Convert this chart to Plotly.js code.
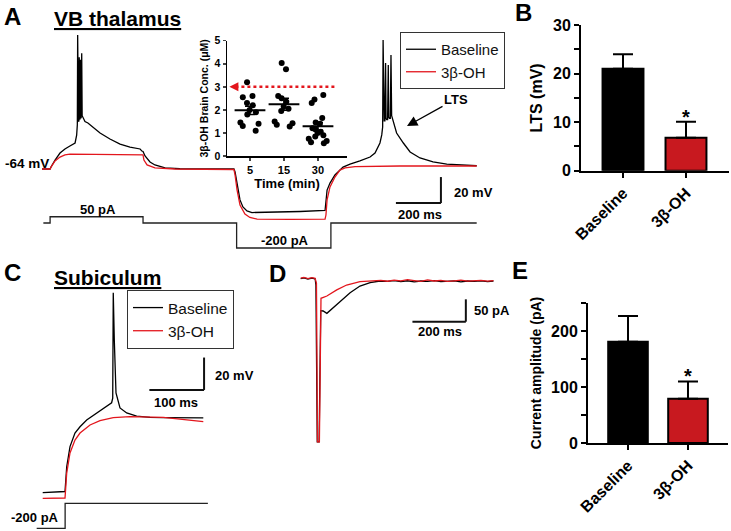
<!DOCTYPE html>
<html>
<head>
<meta charset="utf-8">
<script src="https://cdn.plot.ly/plotly-3.0.1.min.js"></script>
<style>html,body{margin:0;padding:0;background:#fff}#fig{width:731px;height:531px}</style>
</head>
<body>
<div id="fig"></div>
<script>
// ---- data ----
// A: VB thalamus current clamp (time ms, voltage mV)
const tA_base = [0, 36, 40, 58, 80, 102, 124, 147, 154, 157,
  158.5, 160, 162, 164, 165.5, 167, 169, 170.5, 172, 174,
  176.5, 178.5, 181, 186, 191, 204, 213, 236, 258, 302,
  347, 391, 436, 444, 449, 458, 480, 502, 547, 613,
  853, 858, 867, 880, 893, 911, 933, 1013, 1147, 1258,
  1262, 1267, 1280, 1302, 1338, 1369, 1413, 1458, 1480, 1493,
  1502, 1510, 1514, 1516, 1518, 1521, 1524, 1527, 1529, 1532,
  1536, 1539, 1541, 1544, 1548, 1551, 1554, 1557, 1561, 1576,
  1606, 1636, 1680, 1738, 1799, 1858, 1932];
const vA_base = [-64, -64, -62.5, -57.1, -51.7, -48.6, -46.3, -44, -38, -30,
  39, -26, -27, -27.5, 22, -25, -26, 20, -24, -25,
  25, -23, -24, -26.5, -27.5, -28.6, -30, -33.2, -36.3, -40.9,
  -44.8, -47.1, -48.6, -50.2, -50.5, -54, -58.6, -60.9, -63.2, -63.8,
  -63.9, -66.3, -76.3, -87.8, -93.2, -96.3, -97.5, -97.4, -96.7, -95.9,
  -88, -80.2, -74.8, -68.6, -62.5, -60.2, -57.8, -54.8, -51.7, -46.3,
  -44, -37.8, -31.7, 35.2, -26, -27, -27, 17.5, -25, -26,
  -26, 16, -24, -25, -25, 23.7, -23, -25, -28.6, -36.3,
  -44, -50.9, -55.5, -58.6, -60.2, -61, -61.5];
const tA_drug = [0, 36, 40, 58, 80, 102, 124, 258, 444, 449, 453, 467, 502, 591, 853, 858,
  867, 880, 902, 924, 956, 1102, 1258, 1262, 1267, 1280, 1302, 1324, 1347, 1391, 1591, 1932];
const vA_drug = [-64, -64, -62.5, -57.8, -54.8, -53.2, -52.5, -52.7, -53.1, -53.2, -57.1, -60.9, -63.2, -64, -64.4, -68.6,
  -80.2, -91.7, -98.6, -101.3, -102.5, -102.8, -102.5, -99.4, -87.8, -77.8, -70.2, -64.8, -63.2, -62.1, -61.7, -61.7];
const tA_cmd = [6, 36, 36, 449, 449, 865, 865, 1284, 1284, 1932];
const iA_cmd = [0, 0, 50, 50, 0, 0, -200, -200, 0, 0];

// A inset: brain concentration (uM) per time point (min)
const timeCats = ['5', '15', '30'];
const conc5 = [3.2, 2.6, 2.55, 2.3, 2.2, 2.0, 1.9, 1.8, 1.45, 1.4, 1.3, 1.1];
const conc15 = [4.03, 3.76, 2.6, 2.5, 2.35, 2.15, 2.05, 1.95, 1.5, 1.42, 1.35, 1.28];
const conc30 = [2.65, 2.45, 2.3, 1.65, 1.45, 1.4, 1.2, 1.15, 1.05, 1.0, 0.9, 0.85, 0.75, 0.65, 0.6, 0.55];
const concTarget = 3;

// B / E bar charts
const groups = ['Baseline', '3β-OH'];
const ltsMean = [21, 6.8];
const ltsErr = [3, 3.3];
const ampMean = [181, 79];
const ampErr = [46, 31];

// C: subiculum (ms, mV)
const tC_base = [0, 39.5, 40.8, 43.9, 49.9, 59, 68.2, 80.4, 98.7, 117, 126, 128, 129, 130.9, 134, 141.3, 153.5, 171.8, 196.1, 220.5, 293.6];
const vC_base = [-106.7, -106.3, -106, -90.7, -78.3, -69.9, -66, -61.9, -57.7, -53.6, -51.2, -48.3, 16.7, -12.5, -45.2, -54.4, -57.5, -59.4, -60.2, -60.4, -60.6];
const tC_drug = [0, 40.8, 43.9, 49.9, 59, 68.2, 86.5, 104.7, 129, 159.6, 220.5, 293.6];
const vC_drug = [-110.2, -110, -94.6, -82.2, -74.2, -69.9, -64.9, -62.3, -60.4, -59.8, -60.2, -62.8];
const tC_cmd = [-11, 41, 41, 302];
const iC_cmd = [-200, -200, 0, 0];

// D: voltage clamp current (ms, pA)
const tD_base = [0, 12, 27, 42, 54, 57, 62, 69, 75, 84,
  98, 116, 147, 185, 222, 260, 297, 325, 350, 375,
  400, 425, 450, 475, 500, 525, 550, 575, 600, 625,
  650, 675, 700, 722];
const iD_base = [5.5, 7, 4.5, 6.5, 5, -9, -360, -360, -66.4, -67.1,
  -72.3, -63.3, -46.3, -26.2, -11.2, -3.8, 0, -1, 1, -1.5,
  0.5, -2, 0, -1, 1, -1.5, -0.5, 0.5, -2, 0,
  -1, 0.5, -1.5, 0];
const tD_drug = [0, 12, 27, 42, 54, 59, 63, 70, 76, 98,
  135, 172, 222, 272, 300, 325, 350, 375, 400, 425,
  450, 475, 500, 525, 550, 575, 600, 625, 650, 675,
  700, 722];
const iD_drug = [6.5, 8, 5.5, 7.5, 6, -4.5, -360, -360, -38.7, -33.6,
  -20, -9, -1.6, 0, 1.5, -0.5, 2, 0.5, 3, 1,
  -1, 2.5, 0, 1.5, -1, 0.5, 2, -0.5, 1, 1.5,
  -0.5, 1];

// ---- layout helpers ----
const W = 731, H = 531;
const FONT = 'Liberation Sans, Arial, Helvetica, sans-serif';
const RED = '#e3161d';
const BAR_RED = '#c8191f';

function xdom(p0, p1) { return [p0 / W, p1 / W]; }
function ydom(p0, p1) { return [1 - p1 / H, 1 - p0 / H]; }
// linear pixel <-> unit maps for the trace panels
function xrng(p0, p1, pRef, vRef, s) { return [vRef + (p0 - pRef) / s, vRef + (p1 - pRef) / s]; }
function yrng(p0, p1, pRef, vRef, s) { return [vRef - (p1 - pRef) / s, vRef - (p0 - pRef) / s]; }

function mean(a) { return a.reduce((s, v) => s + v, 0) / a.length; }
function sem(a) {
  const m = mean(a);
  const sd = Math.sqrt(a.reduce((s, v) => s + (v - m) * (v - m), 0) / (a.length - 1));
  return sd / Math.sqrt(a.length);
}

function line(x, y, color, xa, ya, name, legend) {
  return {
    x: x, y: y, type: 'scatter', mode: 'lines', name: name || '',
    line: { color: color, width: 1.3 }, xaxis: xa, yaxis: ya,
    showlegend: !!legend, legend: legend || 'legend', hoverinfo: 'skip'
  };
}

let traces = [];
// A
traces.push(line(tA_cmd, iA_cmd, '#222', 'x', 'y2'));
traces.push(line(tA_base, vA_base, '#000', 'x', 'y', 'Baseline', 'legend'));
traces.push(line(tA_drug, vA_drug, RED, 'x', 'y', '3β-OH', 'legend'));

// A inset
[conc5, conc15, conc30].forEach(function (vals, i) {
  traces.push({
    type: 'box', y: vals, name: timeCats[i], xaxis: 'x2', yaxis: 'y3',
    boxpoints: 'all', jitter: 0.95, pointpos: 0, width: 0.7,
    line: { color: 'rgba(0,0,0,0)', width: 0 }, fillcolor: 'rgba(0,0,0,0)',
    marker: { color: '#000', size: 6 }, showlegend: false, hoverinfo: 'skip'
  });
});
traces.push({
  type: 'scatter', mode: 'markers', x: timeCats,
  y: [mean(conc5), mean(conc15), mean(conc30)],
  error_y: { type: 'data', array: [sem(conc5), sem(conc15), sem(conc30)], color: '#000', thickness: 1.5, width: 5 },
  marker: { symbol: 'line-ew', size: 22, color: '#000', line: { color: '#000', width: 2 } },
  xaxis: 'x2', yaxis: 'y3', showlegend: false, hoverinfo: 'skip'
});

// B
traces.push({
  type: 'bar', x: groups, y: ltsMean, width: 0.65, xaxis: 'x3', yaxis: 'y4',
  marker: { color: ['#000', BAR_RED], line: { color: '#000', width: 2 } },
  error_y: { type: 'data', symmetric: false, array: ltsErr, arrayminus: [0, 0], color: '#000', thickness: 2, width: 10 },
  showlegend: false, hoverinfo: 'skip'
});

// C
traces.push(line(tC_cmd, iC_cmd, '#222', 'x4', 'y6'));
traces.push(line(tC_base, vC_base, '#000', 'x4', 'y5', 'Baseline', 'legend2'));
traces.push(line(tC_drug, vC_drug, RED, 'x4', 'y5', '3β-OH', 'legend2'));

// D
traces.push(line(tD_base, iD_base, '#000', 'x5', 'y7'));
traces.push(line(tD_drug, iD_drug, RED, 'x5', 'y7'));

// E
traces.push({
  type: 'bar', x: groups, y: ampMean, width: 0.66, xaxis: 'x6', yaxis: 'y8',
  marker: { color: ['#000', BAR_RED], line: { color: '#000', width: 2 } },
  error_y: { type: 'data', symmetric: false, array: ampErr, arrayminus: [0, 0], color: '#000', thickness: 2, width: 10 },
  showlegend: false, hoverinfo: 'skip'
});

const hid = { visible: false, fixedrange: true };
const boldFont = function (size) { return { family: FONT, size: size, color: '#000', weight: 'bold' }; };

function barY(dom, range, vals, labels, title, tsize) {
  return {
    domain: dom, range: range, tickvals: vals, ticktext: labels,
    showline: true, linewidth: 2, linecolor: '#000', ticks: 'outside', ticklen: 5, tickwidth: 2, tickcolor: '#000',
    showgrid: false, zeroline: false, tickfont: boldFont(16), fixedrange: true,
    title: { text: title, font: boldFont(tsize), standoff: 6 }
  };
}
function barX(dom, range, anchor) {
  return {
    type: 'category', domain: dom, range: range, anchor: anchor, categoryarray: groups,
    showline: true, linewidth: 2, linecolor: '#000', ticks: 'outside', ticklen: 5, tickwidth: 2, tickcolor: '#000',
    showgrid: false, zeroline: false, tickangle: -45, tickfont: boldFont(16), fixedrange: true
  };
}

function txt(s, px, py, size, extra) {
  return Object.assign({
    xref: 'paper', yref: 'paper', x: px / W, y: 1 - py / H, text: '<b>' + s + '</b>',
    showarrow: false, font: { family: FONT, size: size, color: '#000' },
    xanchor: 'center', yanchor: 'middle'
  }, extra || {});
}

const sbLine = { color: '#111', width: 2 };
const shapes = [
  // A scale bar: 200 ms / 20 mV
  { type: 'line', xref: 'x', yref: 'y', x0: 1573, x1: 1773, y0: -90.2, y1: -90.2, line: sbLine },
  { type: 'line', xref: 'x', yref: 'y', x0: 1773, x1: 1773, y0: -90.2, y1: -70.2, line: sbLine },
  // C scale bar: 100 ms / 20 mV
  { type: 'line', xref: 'x4', yref: 'y5', x0: 195, x1: 295, y0: -43.3, y1: -43.3, line: sbLine },
  { type: 'line', xref: 'x4', yref: 'y5', x0: 295, x1: 295, y0: -43.3, y1: -23.3, line: sbLine },
  // D scale bar: 200 ms / 50 pA
  { type: 'line', xref: 'x5', yref: 'y7', x0: 418.5, x1: 618.5, y0: -91, y1: -91, line: sbLine },
  { type: 'line', xref: 'x5', yref: 'y7', x0: 618.5, x1: 618.5, y0: -91, y1: -41, line: sbLine },
  // inset target concentration (dotted red)
  { type: 'line', xref: 'x2 domain', yref: 'y3', x0: 0.07, x1: 0.915, y0: concTarget, y1: concTarget,
    line: { color: RED, width: 2.5, dash: 'dot' } }
];

const annotations = [
  txt('A', 12, 16.5, 24), txt('B', 523, 12, 24), txt('C', 12, 272.5, 24),
  txt('D', 277, 273, 24), txt('E', 520, 270, 24),
  txt('<u>VB thalamus</u>', 52, 18.5, 21, { xanchor: 'left' }),
  txt('<u>Subiculum</u>', 52, 277.5, 21, { xanchor: 'left' }),
  txt('-64 mV', 27, 163, 13.5),
  txt('50 pA', 98, 209, 13), txt('-200 pA', 285, 240, 13), txt('-200 pA', 35, 517, 13),
  txt('20 mV', 452, 192, 13, { xanchor: 'left' }), txt('200 ms', 420, 214, 13),
  txt('20 mV', 213, 375, 13, { xanchor: 'left' }), txt('100 ms', 176, 402, 13),
  txt('50 pA', 471.7, 310.7, 13, { xanchor: 'left' }), txt('200 ms', 440, 331, 13),
  txt('LTS', 407, 126, 13, { showarrow: true, ax: 49, ay: -27, arrowhead: 2, arrowsize: 1.6, arrowwidth: 1.3, arrowcolor: '#000' }),
  // inset arrow head
  { xref: 'x2 domain', yref: 'y3', x: 0.02, y: concTarget, text: '', showarrow: true, ax: 8, ay: 0,
    arrowhead: 2, arrowsize: 1, arrowwidth: 1.8, arrowcolor: RED },
  // significance stars
  { xref: 'x3', yref: 'y4', x: groups[1], y: ltsMean[1] + ltsErr[1], yanchor: 'bottom', yshift: -8,
    text: '<b>*</b>', showarrow: false, font: { family: FONT, size: 20, color: '#000' } },
  { xref: 'x6', yref: 'y8', x: groups[1], y: ampMean[1] + ampErr[1], yanchor: 'bottom', yshift: -8,
    text: '<b>*</b>', showarrow: false, font: { family: FONT, size: 20, color: '#000' } }
];

const legendBase = {
  xanchor: 'left', yanchor: 'top', bgcolor: '#fff', bordercolor: '#333', borderwidth: 1,
  itemwidth: 30, tracegroupgap: 0, itemclick: false, itemdoubleclick: false
};

const layout = {
  width: W, height: H, margin: { l: 0, r: 0, t: 0, b: 0 },
  paper_bgcolor: '#fff', plot_bgcolor: 'rgba(0,0,0,0)',
  font: { family: FONT, color: '#000' }, hovermode: false, showlegend: true,
  legend: Object.assign({ x: 400 / W, y: 1 - 32 / H, font: { family: FONT, size: 15, color: '#111' } }, legendBase),
  legend2: Object.assign({ x: 127 / W, y: 1 - 290 / H, font: { family: FONT, size: 15.5, color: '#111' } }, legendBase),
  // A traces
  xaxis: Object.assign({ domain: xdom(30, 490), range: xrng(30, 490, 42, 0, 0.225), anchor: 'y' }, hid),
  yaxis: Object.assign({ domain: ydom(25, 240), range: yrng(25, 240, 169, -64, 1.3), anchor: 'x' }, hid),
  yaxis2: Object.assign({ domain: ydom(200, 258), range: yrng(200, 258, 223, 0, 0.125), anchor: 'x' }, hid),
  // A inset
  xaxis2: {
    type: 'category', categoryarray: timeCats, domain: xdom(227, 347), range: [-0.676, 2.853], anchor: 'y3',
    showline: true, linewidth: 1.5, linecolor: '#000', ticks: 'outside', ticklen: 3, tickwidth: 1.5,
    showgrid: false, zeroline: false, tickfont: boldFont(11), fixedrange: true,
    title: { text: 'Time (min)', font: boldFont(13), standoff: 2 }
  },
  yaxis3: {
    domain: ydom(40.7, 156), range: [0, 5], dtick: 1, anchor: 'x2',
    showline: true, linewidth: 1.5, linecolor: '#000', ticks: 'outside', ticklen: 3, tickwidth: 1.5,
    showgrid: false, zeroline: false, tickfont: boldFont(10.5), fixedrange: true,
    title: { text: '3β-OH Brain Conc. (μM)', font: boldFont(10.5), standoff: 4 }
  },
  // B
  xaxis3: barX(xdom(581, 729), [-0.667, 1.683], 'y4'),
  yaxis4: Object.assign(barY(ydom(25, 170.7), [0, 30], [0, 5, 10, 15, 20, 25, 30], ['0', '', '10', '', '20', '', '30'], 'LTS (mV)', 16), { anchor: 'x3' }),
  // C
  xaxis4: Object.assign({ domain: xdom(30, 215), range: xrng(30, 215, 42.7, 0, 0.547), anchor: 'y5' }, hid),
  yaxis5: Object.assign({ domain: ydom(285, 505), range: yrng(285, 505, 417, -60, 1.62), anchor: 'x4' }, hid),
  yaxis6: Object.assign({ domain: ydom(495, 531), range: yrng(495, 531, 503.3, 0, 0.125), anchor: 'x4' }, hid),
  // D
  xaxis5: Object.assign({ domain: xdom(295, 500), range: xrng(295, 500, 300.7, 0, 0.267), anchor: 'y7' }, hid),
  yaxis7: Object.assign({ domain: ydom(270, 450), range: yrng(270, 450, 281, 0, 0.447), anchor: 'x5' }, hid),
  // E
  xaxis6: barX(xdom(588, 728), [-0.667, 1.667], 'y8'),
  yaxis8: Object.assign(barY(ydom(303, 443), [0, 250], [0, 50, 100, 150, 200, 250], ['0', '', '100', '', '200', ''], 'Current amplitude (pA)', 14), { anchor: 'x6' }),
  shapes: shapes,
  annotations: annotations
};

Plotly.newPlot('fig', traces, layout, { displayModeBar: false, staticPlot: true });
</script>
</body>
</html>
